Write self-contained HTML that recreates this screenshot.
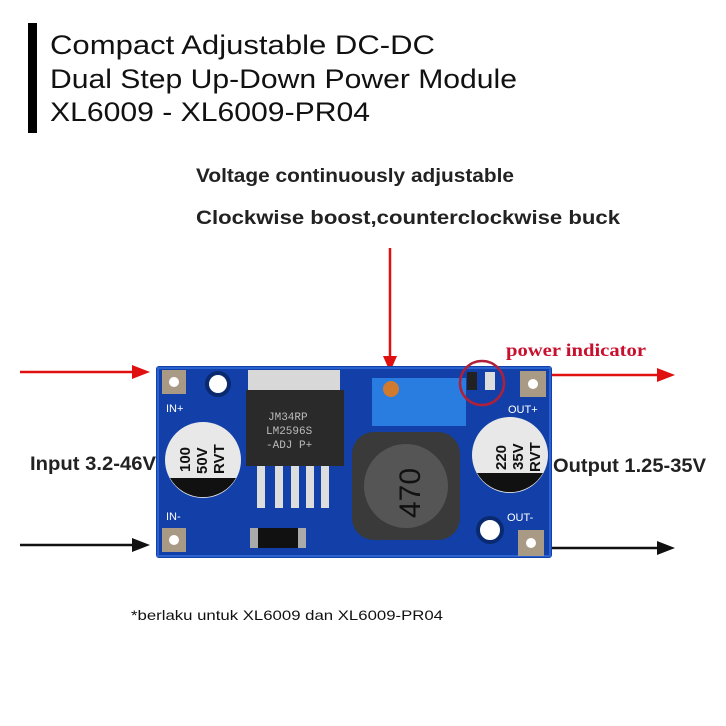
<!DOCTYPE html>
<html><head><meta charset="utf-8"><style>
html,body{margin:0;padding:0;background:#fff;}
svg{display:block;}
</style></head><body>
<svg width="726" height="726" viewBox="0 0 726 726" xmlns="http://www.w3.org/2000/svg" font-family="Liberation Sans, sans-serif">
<rect width="726" height="726" fill="#fff"/>
<rect x="28" y="23" width="9" height="110" fill="#000"/>
<g font-size="27" fill="#111">
<text x="50" y="54" textLength="385" lengthAdjust="spacingAndGlyphs">Compact Adjustable DC-DC</text>
<text x="50" y="88" textLength="467" lengthAdjust="spacingAndGlyphs">Dual Step Up-Down Power Module</text>
<text x="50" y="121" textLength="320" lengthAdjust="spacingAndGlyphs">XL6009 - XL6009-PR04</text>
</g>
<g font-weight="bold" font-size="19" fill="#222">
<text x="196" y="182" textLength="318" lengthAdjust="spacingAndGlyphs">Voltage continuously adjustable</text>
<text x="196" y="224" textLength="424" lengthAdjust="spacingAndGlyphs">Clockwise boost,counterclockwise buck</text>
<text x="30" y="470" textLength="126" lengthAdjust="spacingAndGlyphs">Input 3.2-46V</text>
<text x="553" y="472" textLength="153" lengthAdjust="spacingAndGlyphs">Output 1.25-35V</text>
</g>
<text x="506" y="356" font-family="Liberation Serif, serif" font-weight="bold" font-size="18" fill="#c8102e" textLength="140" lengthAdjust="spacingAndGlyphs">power indicator</text>
<text x="131" y="620" font-size="14" fill="#111" textLength="312" lengthAdjust="spacingAndGlyphs">*berlaku untuk XL6009 dan XL6009-PR04</text>
<g stroke="#e01010" stroke-width="2.5" fill="#e01010">
<line x1="390" y1="248" x2="390" y2="360"/><polygon points="383,356 397,356 390,372" stroke="none"/>
<line x1="20" y1="372" x2="135" y2="372"/><polygon points="132,365 150,372 132,379" stroke="none"/>
<line x1="552" y1="375" x2="660" y2="375"/><polygon points="657,368 675,375 657,382" stroke="none"/>
</g>
<g stroke="#111" stroke-width="2.5" fill="#111">
<line x1="20" y1="545" x2="135" y2="545"/><polygon points="132,538 150,545 132,552" stroke="none"/>
<line x1="552" y1="548" x2="660" y2="548"/><polygon points="657,541 675,548 657,555" stroke="none"/>
</g>
<rect x="156" y="366" width="396" height="192" rx="3" fill="#1240a8"/>
<rect x="158" y="368" width="392" height="188" fill="none" stroke="#2a62d0" stroke-width="2"/>
<g fill="#a99a86"><rect x="162" y="370" width="24" height="24"/><rect x="162" y="528" width="24" height="24"/><rect x="520" y="371" width="26" height="26"/><rect x="518" y="530" width="26" height="26"/></g>
<g fill="#fff"><circle cx="174" cy="382" r="5"/><circle cx="174" cy="540" r="5"/><circle cx="533" cy="384" r="5"/><circle cx="531" cy="543" r="5"/>
<circle cx="218" cy="384" r="11" stroke="#0a2a70" stroke-width="4"/><circle cx="490" cy="530" r="12" stroke="#0a2a70" stroke-width="4"/></g>
<g font-size="11" fill="#fff"><text x="166" y="412">IN+</text><text x="166" y="520">IN-</text><text x="508" y="413">OUT+</text><text x="507" y="521">OUT-</text></g>
<rect x="248" y="370" width="92" height="36" fill="#d8d8d8"/>
<rect x="246" y="390" width="98" height="76" fill="#2a2a2a"/>
<text x="268" y="420" font-family="Liberation Mono, monospace" font-size="11" fill="#bbb">JM34RP</text>
<text x="266" y="434" font-family="Liberation Mono, monospace" font-size="11" fill="#bbb">LM2596S</text>
<text x="266" y="448" font-family="Liberation Mono, monospace" font-size="11" fill="#bbb">-ADJ  P+</text>
<g fill="#ddd"><rect x="257" y="466" width="8" height="42"/><rect x="275" y="466" width="8" height="42"/><rect x="291" y="466" width="8" height="42"/><rect x="306" y="466" width="8" height="42"/><rect x="321" y="466" width="8" height="42"/></g>
<rect x="250" y="528" width="56" height="20" fill="#aaa"/><rect x="258" y="528" width="40" height="20" fill="#111"/>
<circle cx="203" cy="460" r="38" fill="#e8e8e8"/><path d="M170,478 A38,38 0 0 0 236,478 Z" fill="#111"/>
<g font-size="15" font-weight="bold" fill="#111">
<text transform="translate(190,472) rotate(-90)">100</text>
<text transform="translate(207,474) rotate(-90)">50V</text>
<text transform="translate(224,474) rotate(-90)">RVT</text>
</g>
<circle cx="510" cy="455" r="38" fill="#e8e8e8"/><path d="M477,473 A38,38 0 0 0 543,473 Z" fill="#111"/>
<g font-size="15" font-weight="bold" fill="#111">
<text transform="translate(506,470) rotate(-90)">220</text>
<text transform="translate(523,470) rotate(-90)">35V</text>
<text transform="translate(540,472) rotate(-90)">RVT</text>
</g>
<rect x="372" y="378" width="94" height="48" fill="#2a7de0"/>
<circle cx="391" cy="389" r="8" fill="#d07a30"/>
<rect x="352" y="432" width="108" height="108" rx="22" fill="#3a3a3a"/>
<circle cx="406" cy="486" r="42" fill="#555"/>
<text transform="translate(420,518) rotate(-90)" font-size="30" fill="#111">470</text>
<rect x="467" y="372" width="10" height="18" fill="#222"/><rect x="485" y="372" width="10" height="18" fill="#ddd"/>
<circle cx="482" cy="383" r="22" fill="none" stroke="#b0203a" stroke-width="2.5"/>
</svg>
</body></html>
